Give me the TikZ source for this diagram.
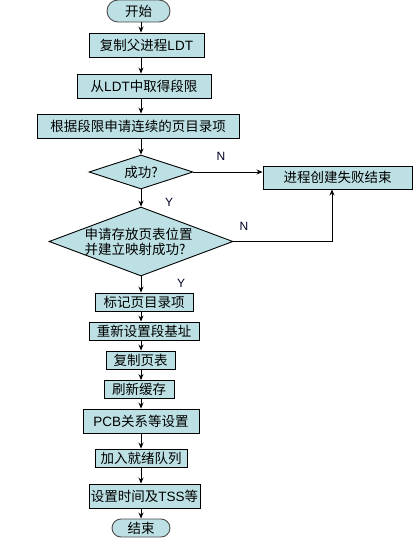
\documentclass[tikz,border=0pt]{standalone}
\usepackage{fontspec}
\setmainfont{Liberation Sans}
\newfontfamily\cjk{Noto Sans CJK SC}
\usetikzlibrary{shapes.geometric,shapes.misc,arrows.meta,calc}
\definecolor{boxfill}{HTML}{BCE0E3}
\tikzset{
  every node/.style={font=\fontsize{13.5}{16}\selectfont\cjk, inner sep=0pt},
  proc/.style={draw=black, fill=boxfill, line width=0.9pt, rectangle, anchor=center},
  term/.style={draw=black!70, fill=boxfill, line width=0.9pt, rounded rectangle},
  decis/.style={draw=black, fill=boxfill, line width=0.9pt, diamond, aspect=2},
  flow/.style={draw=black, line width=0.9pt, -{Stealth[length=6pt,width=5pt]}},
  yn/.style={font=\fontsize{12}{14}\selectfont, text=black!85!blue},
}
\begin{document}
\begin{tikzpicture}[x=1pt,y=-1pt]
\useasboundingbox (0,0) rectangle (417,538);
\coordinate (ax) at (141,0);
\node[term, minimum width=63, minimum height=22] (start) at (138.5,11) {开始};
\node[proc, minimum width=115, minimum height=24] (b1) at (146.5,45) {复制父进程{\rmfamily LDT}};
\node[proc, minimum width=134, minimum height=24] (b2) at (144,86) {从{\rmfamily LDT}中取得段限};
\node[proc, minimum width=202, minimum height=24] (b3) at (138,126) {根据段限申请连续的页目录项};
\node[decis, minimum width=104, minimum height=34] (d1) at (141,172) {};
\node at (d1) {成功?};
\node[proc, minimum width=149, minimum height=23] (fail) at (337.5,177.5) {进程创建失败结束};
\node[decis, minimum width=184, minimum height=69] (d2) at (141,241.5) {};
\node[align=left, font=\fontsize{13.5}{15}\selectfont\cjk] at (138.5,241.5) {申请存放页表位置\\并建立映射成功?};
\node[proc, minimum width=98, minimum height=18] (b4) at (144,302) {标记页目录项};
\node[proc, minimum width=110, minimum height=18] (b5) at (144,331) {重新设置段基址};
\node[proc, minimum width=69, minimum height=18] (b6) at (140.5,360) {复制页表};
\node[proc, minimum width=70, minimum height=18] (b7) at (139,389.5) {刷新缓存};
\node[proc, minimum width=116, minimum height=24] (b8) at (141,421) {{\rmfamily PCB}关系等设置};
\node[proc, minimum width=92, minimum height=18] (b9) at (141,458) {加入就绪队列};
\node[proc, minimum width=111, minimum height=24] (b10) at (144.5,496) {设置时间及{\rmfamily TSS}等};
\node[term, minimum width=58, minimum height=18] (end) at (141,528) {结束};

\foreach \a/\b in {start/b1,b1/b2,b2/b3,b3/d1,d1/d2,d2/b4,b4/b5,b5/b6,b6/b7,b7/b8,b8/b9,b9/b10,b10/end}
  \draw[flow] (\a.south -| ax) -- (\b.north -| ax);
\draw[flow] (d1.east) -- (d1.east -| fail.west);
\coordinate (turn) at (332,241.5);
\draw[flow] (d2.east) -- (turn) -- (turn |- fail.south);

\node[yn] (n1) at (221,156) {N};
\node[yn] (y1) at (169,202) {Y};
\node[yn] (n2) at (244,226) {N};
\node[yn] (y2) at (181,283) {Y};
\end{tikzpicture}
\end{document}
